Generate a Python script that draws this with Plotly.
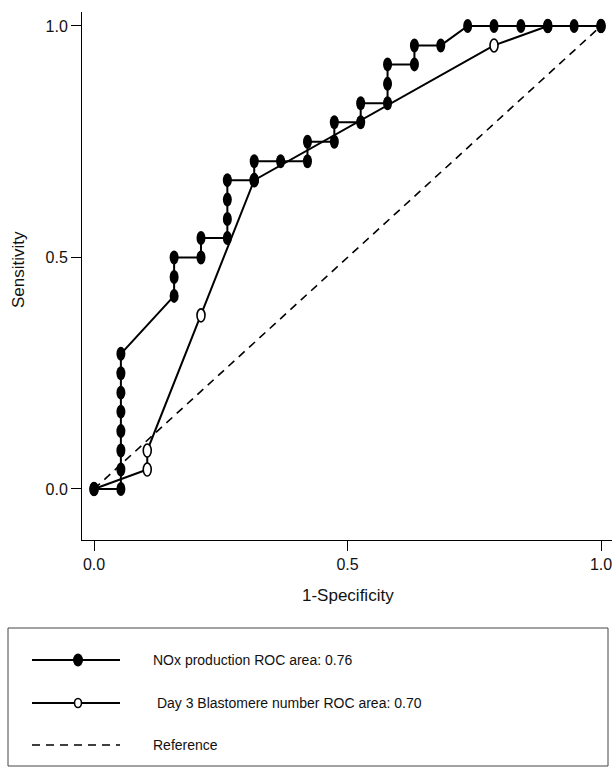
import plotly.graph_objects as go

# ---- data ----
nox_x = [0, 0.053, 0.053, 0.053, 0.053, 0.053, 0.053, 0.053, 0.053,
         0.158, 0.158, 0.158, 0.211, 0.211, 0.263, 0.263, 0.263, 0.263,
         0.316, 0.316, 0.368, 0.421, 0.421, 0.474, 0.474, 0.526, 0.526,
         0.579, 0.579, 0.579, 0.632, 0.632, 0.684,
         0.737, 0.789, 0.842, 0.895, 0.947, 1.0]
nox_y = [0, 0, 0.042, 0.083, 0.125, 0.167, 0.208, 0.25, 0.292,
         0.417, 0.458, 0.5, 0.5, 0.542, 0.542, 0.583, 0.625, 0.667,
         0.667, 0.708, 0.708, 0.708, 0.75, 0.75, 0.792, 0.792, 0.833,
         0.833, 0.875, 0.917, 0.917, 0.958, 0.958,
         1.0, 1.0, 1.0, 1.0, 1.0, 1.0]

blast_x = [0, 0.105, 0.105, 0.211, 0.316, 0.789, 0.895, 1.0]
blast_y = [0, 0.042, 0.083, 0.375, 0.667, 0.958, 1.0, 1.0]

ref_x = [0, 1]
ref_y = [0, 1]

tick_vals = [0, 0.5, 1.0]
tick_text = ["0.0", "0.5", "1.0"]

legend_labels = ["NOx production ROC area: 0.76",
                 " Day 3 Blastomere number ROC area: 0.70",
                 "Reference"]

# ---- layout geometry (pixels) ----
W, H = 616, 775
L, R, T, B = 82, 4, 12, 235
PW, PH = W - L - R, H - T - B


def px(xp):
    return (xp - L) / PW


def py(yp):
    return (H - B - yp) / PH


FONT = "Liberation Sans, Arial, sans-serif"
TXT = "#111111"

fig = go.Figure()
fig.add_trace(go.Scatter(x=ref_x, y=ref_y, mode="lines",
                         line=dict(color="black", width=1.6, dash="8px,6px"),
                         hoverinfo="skip", showlegend=False))
fig.add_trace(go.Scatter(x=blast_x, y=blast_y, mode="lines",
                         line=dict(color="black", width=2),
                         hoverinfo="skip", showlegend=False))
fig.add_trace(go.Scatter(x=nox_x, y=nox_y, mode="lines",
                         line=dict(color="black", width=2),
                         hoverinfo="skip", showlegend=False))

shapes = []
# open (hollow) markers first
for xv, yv in zip(blast_x, blast_y):
    shapes.append(dict(type="circle", xref="x", yref="y",
                       xsizemode="pixel", ysizemode="pixel",
                       xanchor=xv, yanchor=yv, x0=-4, x1=4, y0=-6.5, y1=6.5,
                       fillcolor="white", line=dict(color="black", width=1.6),
                       layer="above"))
# filled markers
for xv, yv in zip(nox_x, nox_y):
    shapes.append(dict(type="circle", xref="x", yref="y",
                       xsizemode="pixel", ysizemode="pixel",
                       xanchor=xv, yanchor=yv, x0=-4.5, x1=4.5, y0=-7, y1=7,
                       fillcolor="black", line=dict(color="black", width=0),
                       layer="above"))

# legend box
shapes.append(dict(type="rect", xref="paper", yref="paper",
                   x0=px(8), x1=px(608), y0=py(628), y1=py(766),
                   line=dict(color="#444444", width=1), fillcolor="rgba(0,0,0,0)"))
rows = [660, 703, 745]
shapes.append(dict(type="line", xref="paper", yref="paper",
                   x0=px(32), x1=px(120), y0=py(rows[0]), y1=py(rows[0]),
                   line=dict(color="black", width=2)))
shapes.append(dict(type="line", xref="paper", yref="paper",
                   x0=px(32), x1=px(120), y0=py(rows[1]), y1=py(rows[1]),
                   line=dict(color="black", width=2)))
shapes.append(dict(type="line", xref="paper", yref="paper",
                   x0=px(32), x1=px(120), y0=py(rows[2]), y1=py(rows[2]),
                   line=dict(color="black", width=1.6, dash="8px,6px")))
shapes.append(dict(type="circle", xref="paper", yref="paper",
                   xsizemode="pixel", ysizemode="pixel",
                   xanchor=px(78), yanchor=py(rows[0]), x0=-5, x1=5, y0=-6.5, y1=6.5,
                   fillcolor="black", line=dict(color="black", width=0)))
shapes.append(dict(type="circle", xref="paper", yref="paper",
                   xsizemode="pixel", ysizemode="pixel",
                   xanchor=px(78), yanchor=py(rows[1]), x0=-3.5, x1=3.5, y0=-4.5, y1=4.5,
                   fillcolor="white", line=dict(color="black", width=1.6)))

annotations = []
for i, lab in enumerate(legend_labels):
    annotations.append(dict(xref="paper", yref="paper", x=px(151), y=py(rows[i]),
                            xanchor="left", yanchor="middle", showarrow=False,
                            text=lab.replace(" ", "&nbsp;", 1) if lab.startswith(" ") else lab,
                            font=dict(family=FONT, size=14, color=TXT)))
# axis titles
annotations.append(dict(xref="paper", yref="paper", x=px(348), y=py(595),
                        xanchor="center", yanchor="middle", showarrow=False,
                        text="1-Specificity", font=dict(family=FONT, size=17, color=TXT)))
annotations.append(dict(xref="paper", yref="paper", x=px(18), y=py(270),
                        xanchor="center", yanchor="middle", showarrow=False, textangle=-90,
                        text="Sensitivity", font=dict(family=FONT, size=17, color=TXT)))

axis_common = dict(showline=True, linecolor="black", linewidth=1, ticks="outside",
                   ticklen=10, tickwidth=1, tickcolor="black", showgrid=False,
                   zeroline=False, tickvals=tick_vals, ticktext=tick_text,
                   tickfont=dict(family=FONT, size=16, color=TXT), fixedrange=True)

fig.update_layout(
    width=W, height=H,
    margin=dict(l=L, r=R, t=T, b=B),
    paper_bgcolor="white", plot_bgcolor="white",
    showlegend=False,
    xaxis=dict(range=[-0.0237, 1.0217], **axis_common),
    yaxis=dict(range=[-0.1102, 1.0302], **axis_common),
    shapes=shapes,
    annotations=annotations,
)

fig.write_html("out.html",
               config={"displayModeBar": False, "staticPlot": True},
               post_script="document.body.style.margin='0px';"
                           "document.body.style.overflow='hidden';")
